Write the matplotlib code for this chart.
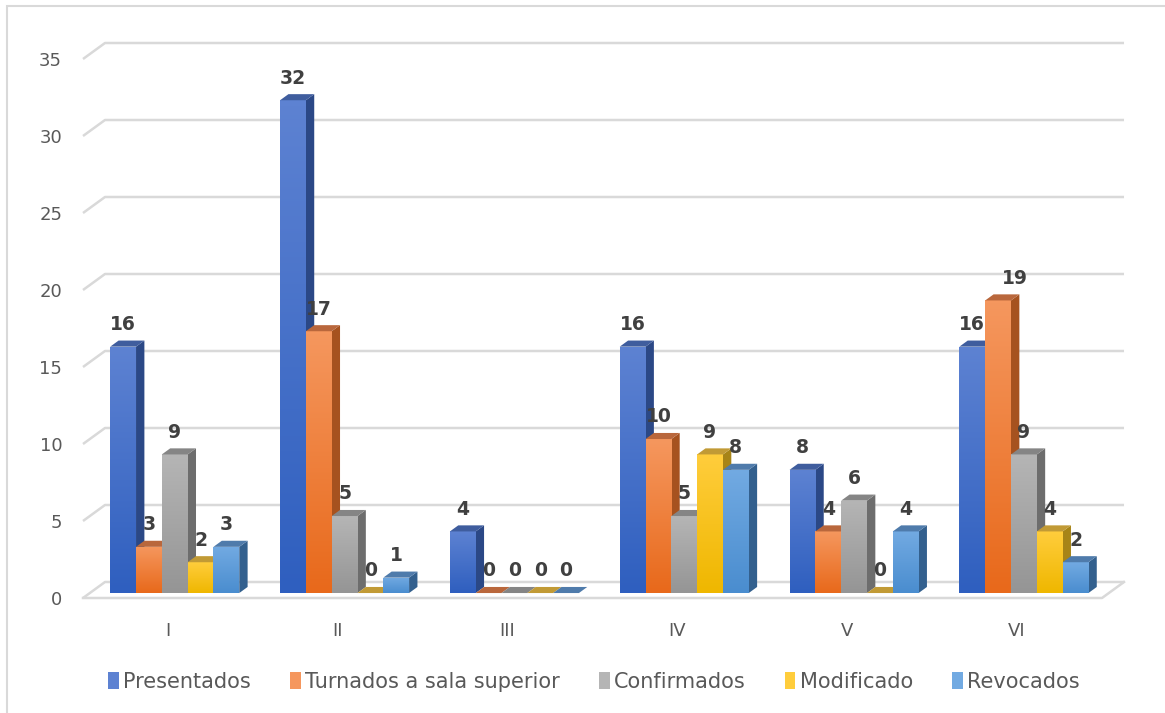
import matplotlib
matplotlib.use("Agg")
import matplotlib.pyplot as plt
import numpy as np
from matplotlib.colors import LinearSegmentedColormap
from matplotlib.patches import Polygon, Rectangle

categories = ["I", "II", "III", "IV", "V", "VI"]
series = ["Presentados", "Turnados a sala superior", "Confirmados", "Modificado", "Revocados"]
presentados = [16, 32, 4, 16, 8, 16]
turnados = [3, 17, 0, 10, 4, 19]
confirmados = [9, 5, 0, 5, 6, 9]
modificado = [2, 0, 0, 9, 0, 4]
revocados = [3, 1, 0, 8, 4, 2]
values = [presentados, turnados, confirmados, modificado, revocados]

# (gradient top, gradient bottom, side face, top face)
COLORS = [
    ("#5d82d2", "#2f5fbf", "#2b4886", "#3f5d9e"),
    ("#f5975e", "#e8691b", "#a6521f", "#b9673c"),
    ("#b5b5b5", "#959595", "#6d6d6d", "#858585"),
    ("#ffcd3c", "#efb700", "#a78417", "#c19a35"),
    ("#72aae2", "#4a8dcf", "#33608e", "#4f7bab"),
]
GRID = "#d9d9d9"
TEXT = "#595959"

# oblique 3D look: offset of the back wall in data units
PX_X = 169.8   # pixels per category
PX_Y = 15.4    # pixels per value unit
DX, DY = 22 / PX_X, 16 / PX_Y
D0, D1 = 0.31, 0.69          # bar depth span (0 front, 1 back)
BAR_W = 25.8 / PX_X
LABEL_NUDGE = {(5, 1): 0.1}  # "19" sits to the right in the original

fig = plt.figure(figsize=(11.65, 7.13), dpi=100)
ax = fig.add_axes([83 / 1165, (713 - 598) / 713, (1102 - 83) / 1165, (598 - 59) / 713])
for s in ax.spines.values():
    s.set_visible(False)

# chart border (partly cropped in the original)
fig.add_artist(Rectangle((6.5 / 1165, -0.2), 2.0, (713 - 6) / 713 + 0.2, transform=fig.transFigure,
                         fill=False, edgecolor=GRID, linewidth=1.5))

x0, x1 = -0.5, len(categories) - 0.5
for v in range(0, 36, 5):
    ax.plot([x0, x0 + DX, x1 + DX], [v, v + DY, v + DY], color=GRID, lw=1.8,
            clip_on=False, zorder=1, solid_capstyle="butt")
ax.plot([x0, x1, x1 + DX], [0, 0, DY], color=GRID, lw=1.8, clip_on=False, zorder=1)

ddx, ddy = (D1 - D0) * DX, (D1 - D0) * DY
grad = np.linspace(0, 1, 64).reshape(-1, 1)
for k, (vals, (ctop, cbot, cside, ctopf)) in enumerate(zip(values, COLORS)):
    cmap = LinearSegmentedColormap.from_list(f"g{k}", [cbot, ctop])
    for i, v in enumerate(vals):
        z = 3 + k * 0.1
        xl = i + (k - 2) * BAR_W - BAR_W / 2 + D0 * DX
        xr = xl + BAR_W
        yb = D0 * DY
        ax.add_patch(Polygon([(xr, yb), (xr + ddx, yb + ddy), (xr + ddx, v + yb + ddy), (xr, v + yb)],
                             closed=True, facecolor=cside, edgecolor="none", zorder=z, clip_on=False))
        if v > 0:
            bar = ax.bar(xl, v, width=BAR_W, bottom=yb, align="edge", color=cbot,
                         zorder=z + 0.01, clip_on=False)[0]
            im = ax.imshow(grad, extent=[xl, xr, yb, v + yb], origin="lower", cmap=cmap,
                           aspect="auto", zorder=z + 0.02, interpolation="bilinear")
            im.set_clip_path(bar)
        ax.add_patch(Polygon([(xl, v + yb), (xr, v + yb), (xr + ddx, v + yb + ddy), (xl + ddx, v + yb + ddy)],
                             closed=True, facecolor=ctopf, edgecolor="none", zorder=z + 0.03, clip_on=False))
        ax.annotate(str(v), (xl + BAR_W / 2 + LABEL_NUDGE.get((i, k), 0), v + yb),
                    xytext=(0, 16), textcoords="offset points", ha="center", va="center",
                    fontsize=13.5, fontweight="bold", color="#404040", zorder=10,
                    annotation_clip=False)

ax.set_xlim(x0, x1)
ax.set_ylim(0, 35)
ax.set_yticks(range(0, 36, 5))
ax.set_xticks(range(len(categories)), categories)
ax.tick_params(length=0, labelsize=13, labelcolor=TEXT)
ax.tick_params(axis="y", pad=15)
ax.tick_params(axis="x", pad=17)

handles = [Rectangle((0, 0), 1, 1, facecolor=c[0], edgecolor="none") for c in COLORS]
fig.legend(handles, series, loc="center", bbox_to_anchor=(594 / 1165, 1 - 682 / 713), ncol=5,
           frameon=False, fontsize=15, labelcolor=TEXT, handlelength=0.5, handleheight=0.85,
           handletextpad=0.2, columnspacing=1.9)

fig.savefig("out.png", dpi=100)
